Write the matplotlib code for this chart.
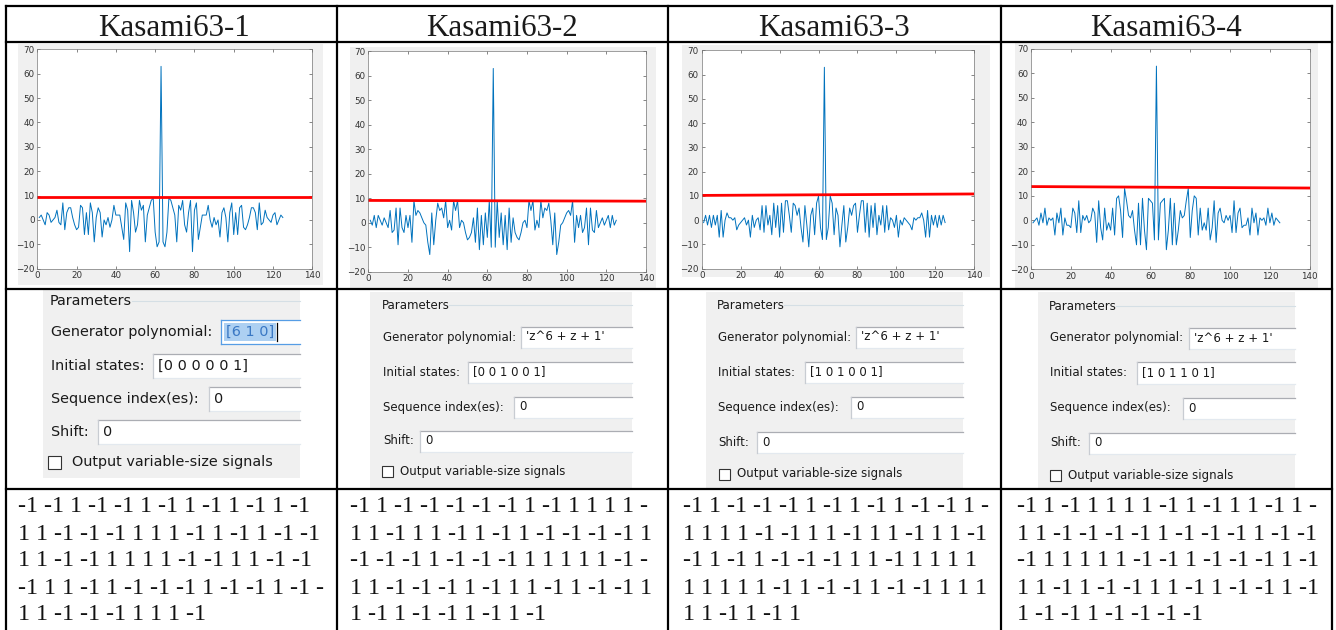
import numpy as np
import matplotlib
matplotlib.use("Agg")
import matplotlib.pyplot as plt
from matplotlib.patches import Rectangle
from matplotlib.lines import Line2D

W, H = 1336, 630

# ---------------- data ----------------
titles = ["Kasami63-1", "Kasami63-2", "Kasami63-3", "Kasami63-4"]

lags = np.arange(1, 126)

corr1 = [1, 2, 0, -2, 3, 2, -1, 0, 1, 4, -1, -2, 7, -4, 3, 5, 5, 1, -2, -4,
         -3, 6, 5, -6, 3, -6, 7, 3, -9, 1, 5, 3, -7, 0, -2, 1, -3, 0, 6, 2,
         2, 2, -3, -8, 7, 4, -13, 8, 3, -5, -2, 8, 4, 6, -9, 2, 5, 8, 9, -5,
         -11, -9, 63,
         -9, -11, -5, 9, 8, 5, 2, -9, 6, 4, 8, -2, -5, 3, 8, -13, 4, 7, -8, -3,
         2, 2, 2, 6, 0, -3, 1, -2, 0, -7, 3, 5, 1, -9, 3, 7, -6, 3, -6, 5,
         6, -3, -4, -2, 1, 5, 5, 3, -4, 7, -2, -1, 4, 1, 0, -1, 2, 3, -2, 0,
         2, 1]
corr2 = [1, -1, 3, -2, 3, 1, -1, 2, 0, -2, 5, -4, -3, 6, -9, 6, -2, -4, 3, -2,
         3, -8, 9, 3, 5, 4, 2, 0, -1, -8, -13, 4, -9, 1, 8, 5, 6, 2, 9, -2,
         1, -3, 9, 5, 9, -2, 1, 0, -4, -7, -6, -4, 2, -8, 6, -11, 3, -9, 4, -6,
         9, -10, 63,
         -10, 9, -6, 4, -9, 3, -11, 6, -8, 2, -4, -6, -7, -4, 0, 1, -2, 9, 5, 9,
         -3, 1, -2, 9, 2, 6, 5, 8, 1, -9, 4, -13, -8, -1, 0, 2, 4, 5, 3, 9,
         -8, 3, -2, 3, -4, -2, 6, -9, 6, -3, -4, 5, -2, 0, 2, -1, 1, 3, -2, 3,
         -1, 1]
corr3 = [-1, 2, -2, 2, -3, 2, -2, 2, -7, 4, -7, 0, 3, 1, 1, 0, 1, -4, -2, -1,
         0, 1, -2, 0, -7, 2, -3, 0, 1, -4, 6, -5, 6, -2, 2, -6, 7, -3, 6, -7,
         7, -5, 8, 8, 2, -5, 7, 6, 2, 5, -3, -9, 6, -2, -11, 2, 5, -6, 7, 10,
         -3, -8, 63,
         -8, -3, 10, 7, -6, 5, 2, -11, -2, 6, -9, -3, 5, 2, 6, 7, -5, 2, 8, 8,
         -5, 7, -7, 6, -3, 7, -6, 2, -2, 6, -5, 6, -4, 1, 0, -3, 2, -7, 0, -2,
         1, 0, -1, -2, -4, 1, 0, 1, 1, 3, 0, -7, 4, -7, 2, -2, 2, -3, 2, -2,
         2, -1]
corr4 = [-1, 0, 1, -2, 3, -1, 5, -2, 1, 0, 1, -6, 3, -1, 5, -6, 1, -2, -2, -3,
         5, 3, -5, 8, -5, 2, 0, 2, -1, 0, 5, 3, -9, 8, -3, -8, 5, -4, -1, -4,
         5, -6, 9, 10, 4, -7, 13, 8, 2, 1, 4, -4, -10, 7, -10, 9, -4, -12, 9, 8,
         7, -8, 63,
         -8, 7, 8, 9, -12, -4, 9, -10, 7, -10, -4, 4, 1, 2, 8, 13, -7, 4, 10, 9,
         -6, 5, -4, -1, -4, 5, -8, -3, 8, -9, 3, 5, 0, -1, 2, 0, 2, -5, 8, -5,
         3, 5, -3, -2, -2, 1, -6, 5, -1, 3, -6, 1, 0, 1, -2, 5, -1, 3, -2, 1,
         0, -1]
correlations = [corr1, corr2, corr3, corr4]

# red threshold line, value at x=0 and at x=140
thresh_start = [9.3, 9.1, 10.2, 13.8]
thresh_end = [9.3, 8.8, 10.8, 13.2]

gen_poly = ["[6 1 0]", "'z^6 + z + 1'", "'z^6 + z + 1'", "'z^6 + z + 1'"]
init_states = ["[0 0 0 0 0 1]", "[0 0 1 0 0 1]", "[1 0 1 0 0 1]", "[1 0 1 1 0 1]"]
seq_index = ["0", "0", "0", "0"]
shift = ["0", "0", "0", "0"]

sequences = [
    ["-1 -1 1 -1 -1 1 -1 1 -1 1 -1 1 -1",
     "1 1 -1 -1 -1 1 1 1 -1 1 -1 1 -1 -1",
     "1 1 -1 -1 1 1 1 1 -1 -1 1 1 -1 -1",
     "-1 1 1 -1 1 -1 -1 -1 1 -1 -1 1 -1 -",
     "1 1 -1 -1 -1 1 1 1 -1"],
    ["-1 1 -1 -1 -1 -1 -1 1 -1 1 1 1 1 -",
     "1 1 -1 1 1 -1 1 -1 1 -1 -1 -1 -1 1",
     "-1 -1 -1 1 -1 -1 -1 1 1 1 1 1 -1 -",
     "1 1 -1 -1 -1 1 -1 1 1 -1 1 -1 -1 1",
     "1 -1 1 -1 -1 1 -1 1 -1"],
    ["-1 1 -1 -1 -1 1 -1 1 -1 1 -1 -1 1 -",
     "1 1 1 1 -1 -1 1 1 -1 1 1 -1 1 1 -1",
     "-1 1 -1 1 -1 -1 -1 1 1 -1 1 1 1 1",
     "1 1 1 1 1 -1 1 -1 -1 1 -1 -1 1 1 1",
     "1 1 -1 1 -1 1"],
    ["-1 1 -1 1 1 1 1 -1 1 -1 1 1 -1 1 -",
     "1 1 -1 -1 -1 -1 1 -1 -1 -1 1 -1 -1",
     "-1 1 1 1 1 1 -1 -1 1 -1 -1 -1 1 -1",
     "1 1 -1 1 -1 -1 1 1 -1 1 -1 -1 1 -1",
     "1 -1 -1 1 -1 -1 -1 -1"],
]

# ---------------- layout (pixels) ----------------
col_lines = [6, 337, 668, 1001, 1332]
row_lines = [6, 42, 289, 489]
title_x = [174, 502, 834, 1166]

# axes box: x(0), x(140), y(70), y(-20)
axes_px = [(37.3, 312.3, 49.3, 268.7), (368.3, 646, 51.3, 271.7),
           (701.7, 974.3, 50.3, 268.7), (1031, 1309.7, 49, 269.3)]
gray_px = [(18, 323, 44, 285), (350, 656, 47, 288),
           (682, 990, 45, 277), (1015, 1318, 43, 288)]

# dialog panels: edges, label x, font size, row centers
# (params, gen, init, seq, shift, check), box lefts, box height, checkbox x and size
panels = [
    dict(l=43, r=300, t=290, b=478, lx=51, fs=10.4,
         rows=[301, 332, 366, 399, 432, 462], boxes=[221, 153, 209, 98], bh=24, cx=48, cs=13),
    dict(l=370, r=632, t=292, b=488, lx=383, fs=8.5,
         rows=[305, 337, 372, 407, 441, 471], boxes=[521, 468, 514, 420], bh=21, cx=382, cs=11),
    dict(l=706, r=963, t=292, b=488, lx=718, fs=8.5,
         rows=[305, 337, 372, 407, 442, 474], boxes=[856, 805, 851, 757], bh=21, cx=719, cs=11),
    dict(l=1038, r=1295, t=292, b=488, lx=1050, fs=8.5,
         rows=[306, 338, 373, 408, 443, 475], boxes=[1189, 1137, 1183, 1089], bh=21, cx=1050, cs=11),
]
seq_x = [18, 350, 683, 1017]
seq_rows = [507, 534, 561, 588, 615]


def fx(x):
    return x / W


def fy(y):
    return 1 - y / H


fig = plt.figure(figsize=(W / 100, H / 100), dpi=100)
fig.patch.set_facecolor("white")


def rect(x0, y0, x1, y1, **kw):
    r = Rectangle((fx(x0), fy(y1)), fx(x1) - fx(x0), fy(y0) - fy(y1),
                  transform=fig.transFigure, **kw)
    fig.add_artist(r)
    return r


def line(x0, y0, x1, y1, **kw):
    fig.add_artist(Line2D([fx(x0), fx(x1)], [fy(y0), fy(y1)], transform=fig.transFigure, **kw))


# table grid
for x in col_lines:
    line(x, row_lines[0], x, H, color="black", lw=1.6, zorder=5)
for y in row_lines:
    line(col_lines[0], y, col_lines[-1], y, color="black", lw=1.6, zorder=5)

serif = "Liberation Serif"
ui = "DejaVu Sans"

for i in range(4):
    # header
    fig.text(fx(title_x[i]), fy(36), titles[i], ha="center", va="baseline",
             fontsize=22.3, family=serif, color="#1a1a1a")

    # matlab figure
    g = gray_px[i]
    rect(g[0], g[2], g[1], g[3], facecolor="#F0F0F0", edgecolor="none", zorder=-2)
    a = axes_px[i]
    ax = fig.add_axes([fx(a[0]), fy(a[3]), fx(a[1]) - fx(a[0]), fy(a[2]) - fy(a[3])])
    ax.plot(lags, correlations[i], color="#0072BD", lw=0.7)
    ax.plot([0, 140], [thresh_start[i], thresh_end[i]], color="#FF0000", lw=2.0)
    ax.set_xlim(0, 140)
    ax.set_ylim(-20, 70)
    ax.set_xticks(range(0, 141, 20))
    ax.set_yticks(range(-20, 71, 10))
    ax.tick_params(direction="in", length=2.5, width=0.5, colors="#555555",
                   labelcolor="#333333", labelsize=6.3, top=True, right=True, pad=2)
    for s in ax.spines.values():
        s.set_color("#777777")
        s.set_linewidth(0.5)

    # parameter dialog
    p = panels[i]
    fs = p["fs"]
    rect(p["l"], p["t"], p["r"], p["b"], facecolor="#F0F0F0", edgecolor="none", zorder=1)
    rows = p["rows"]
    fig.text(fx(p["lx"] - 1), fy(rows[0]), "Parameters", va="center", fontsize=fs,
             family=ui, color="#1a1a1a", zorder=3)
    pw = fs * 1.39 * 5.6
    line(p["lx"] + pw, rows[0], p["r"], rows[0], color="#D5DFE5", lw=0.8, zorder=2)

    labels = ["Generator polynomial:", "Initial states:", "Sequence index(es):", "Shift:"]
    values = [gen_poly[i], init_states[i], seq_index[i], shift[i]]
    for k in range(4):
        yc = rows[k + 1]
        fig.text(fx(p["lx"]), fy(yc), labels[k], va="center", fontsize=fs,
                 family=ui, color="#1a1a1a", zorder=3)
        bx = p["boxes"][k]
        bh = p["bh"]
        focused = i == 0 and k == 0
        edge = "#569DE5" if focused else "#ABADB3"
        rect(bx, yc - bh / 2, p["r"], yc + bh / 2, facecolor="white", edgecolor="none", zorder=2)
        line(bx, yc - bh / 2, p["r"], yc - bh / 2, color=edge, lw=0.9, zorder=3)
        line(bx, yc + bh / 2, p["r"], yc + bh / 2, color="#569DE5" if focused else "#E3E9EF",
             lw=0.9, zorder=3)
        line(bx, yc - bh / 2, bx, yc + bh / 2, color="#569DE5" if focused else "#C8CCD2",
             lw=0.9, zorder=3)
        if focused:
            rect(bx + 3, yc - 9, bx + 55, yc + 9, facecolor="#ADD0F2",
                 edgecolor="none", zorder=3)
            fig.text(fx(bx + 5), fy(yc), values[k], va="center", fontsize=fs,
                     family=ui, color="#3A78C4", zorder=4)
            line(bx + 56, yc - 9, bx + 56, yc + 9, color="black", lw=0.9, zorder=4)
        else:
            fig.text(fx(bx + 5), fy(yc), values[k], va="center", fontsize=fs,
                     family=ui, color="#1a1a1a", zorder=4)

    # checkbox
    cs = p["cs"]
    yc = rows[5]
    rect(p["cx"], yc - cs / 2, p["cx"] + cs, yc + cs / 2, facecolor="white",
         edgecolor="#333333", lw=0.8, zorder=3)
    fig.text(fx(p["cx"] + cs + (11 if i == 0 else 7)), fy(yc), "Output variable-size signals",
             va="center", fontsize=fs, family=ui, color="#1a1a1a", zorder=3)

    # sequence text
    for r, s in enumerate(sequences[i]):
        fig.text(fx(seq_x[i]), fy(seq_rows[r]), s, va="center", fontsize=17.2,
                 family=serif, color="#111111")

fig.savefig("out.png", dpi=100, facecolor="white")
